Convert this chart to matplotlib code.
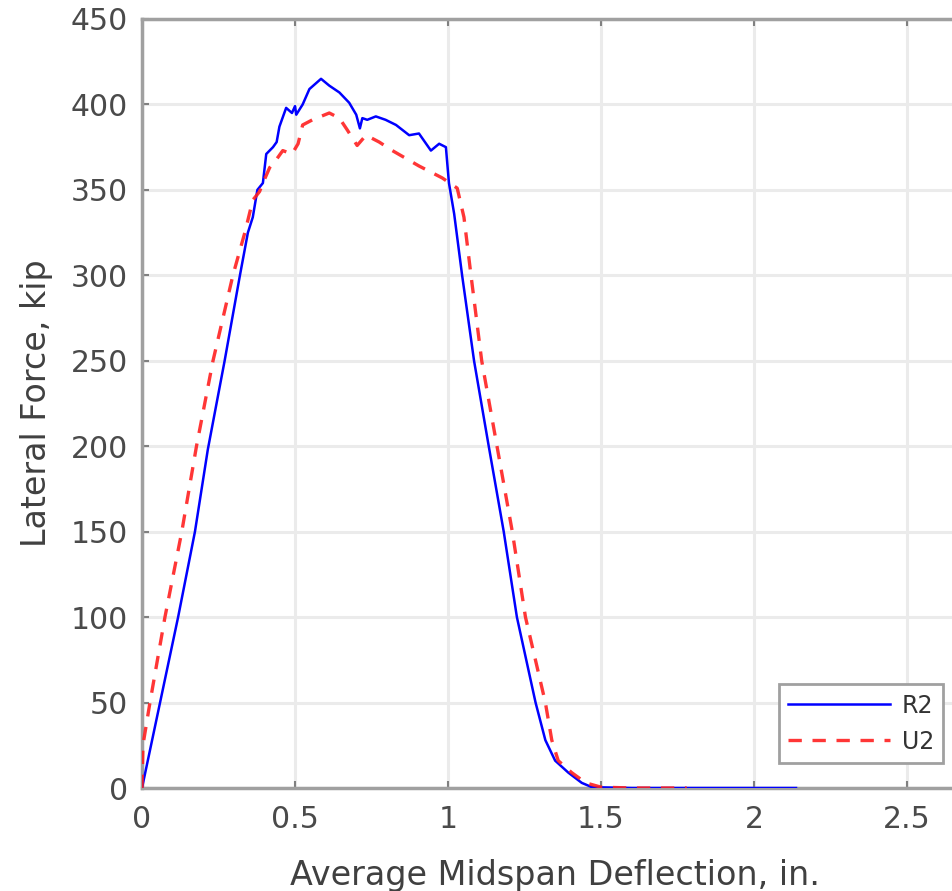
import matplotlib
matplotlib.use("Agg")
import matplotlib.pyplot as plt

plt.rcParams['font.family'] = ['DejaVu Sans']

# R2 (solid blue)
r2_x = [0, 0.059, 0.118, 0.173, 0.215, 0.27, 0.32, 0.346, 0.362, 0.377, 0.395,
        0.406, 0.428, 0.44, 0.449, 0.471, 0.49, 0.50, 0.504, 0.525, 0.547, 0.585,
        0.612, 0.645, 0.677, 0.70, 0.712, 0.72, 0.736, 0.764, 0.796, 0.83, 0.873,
        0.905, 0.944, 0.971, 0.993, 1.003, 1.02, 1.046, 1.085, 1.133, 1.182,
        1.225, 1.286, 1.318, 1.35, 1.393, 1.437, 1.47, 1.6, 1.8, 2.0, 2.137]
r2_y = [0, 50, 100, 150, 198, 250, 300, 325, 334, 350, 354,
        371, 375, 378, 387, 398, 395, 399, 394, 400, 409, 415,
        411, 407, 401, 394, 386, 392, 391, 393, 391, 388, 382,
        383, 373, 377, 375, 354, 336, 300, 250, 200, 150,
        100, 50, 28, 16, 9, 3, 0.5, 0, 0, 0, 0]

# U2 (dashed red)
u2_x = [0, 0.003, 0.026, 0.075, 0.13, 0.178, 0.232, 0.297, 0.336, 0.362, 0.384,
        0.40, 0.417, 0.44, 0.46, 0.49, 0.51, 0.525, 0.557, 0.612, 0.645, 0.671,
        0.703, 0.732, 0.775, 0.818, 0.905, 0.981, 1.03, 1.052, 1.075, 1.11,
        1.16, 1.21, 1.253, 1.318, 1.339, 1.36, 1.404, 1.45, 1.5, 1.6, 1.78]
u2_y = [0, 25, 50, 100, 150, 200, 250, 300, 325, 344, 349,
        356, 363, 368, 373, 371, 377, 388, 391, 395, 392, 385,
        376, 382, 378, 373, 364, 357, 351, 334, 300, 250,
        200, 150, 100, 50, 28, 16, 9, 3, 0.5, 0, 0]

x_ticks = [0, 0.5, 1, 1.5, 2, 2.5]
x_tick_labels = ['0', '0.5', '1', '1.5', '2', '2.5']
y_ticks = [0, 50, 100, 150, 200, 250, 300, 350, 400, 450]

fig = plt.figure(figsize=(9.53, 8.91), dpi=100)
ax = fig.add_axes([142 / 953, 103 / 891, 811 / 953, 769 / 891])

ax.plot(r2_x, r2_y, color='#0000ff', lw=1.8, label='R2', zorder=3)
ax.plot(u2_x, u2_y, color='#ff2020', lw=2.4, ls=(0, (4, 3.2)), label='U2',
        alpha=0.9, zorder=4)

ax.set_xlim(0, 2.65)
ax.set_ylim(0, 450)
ax.set_xticks(x_ticks)
ax.set_xticklabels(x_tick_labels)
ax.set_yticks(y_ticks)

ax.grid(True, color='#ebebeb', lw=2.2)
ax.set_axisbelow(True)
for side in ['left', 'bottom', 'top']:
    ax.spines[side].set_color('#a0a0a0')
    ax.spines[side].set_linewidth(2.5)
ax.spines['right'].set_visible(False)

ax.tick_params(direction='in', length=5, width=1.5, color='#808080',
               labelsize=21.5, labelcolor='#4a4a4a', top=True)
ax.tick_params(axis='y', pad=10)
ax.tick_params(axis='x', pad=12)

ax.set_xlabel('Average Midspan Deflection, in.', fontsize=24, color='#404040')
ax.set_ylabel('Lateral Force, kip', fontsize=24, color='#404040')
ax.xaxis.set_label_coords(0.509, -0.092)
ax.yaxis.set_label_coords(-0.11, 0.5)

leg = ax.legend(loc='lower right', bbox_to_anchor=(0.988, 0.0325),
                borderaxespad=0, fontsize=17, handlelength=4.3,
                handletextpad=0.5, fancybox=False, framealpha=1,
                edgecolor='#a0a0a0', labelspacing=0.5)
leg.get_frame().set_linewidth(2)
for t in leg.get_texts():
    t.set_color('#333333')

fig.savefig('out.png', dpi=100)
